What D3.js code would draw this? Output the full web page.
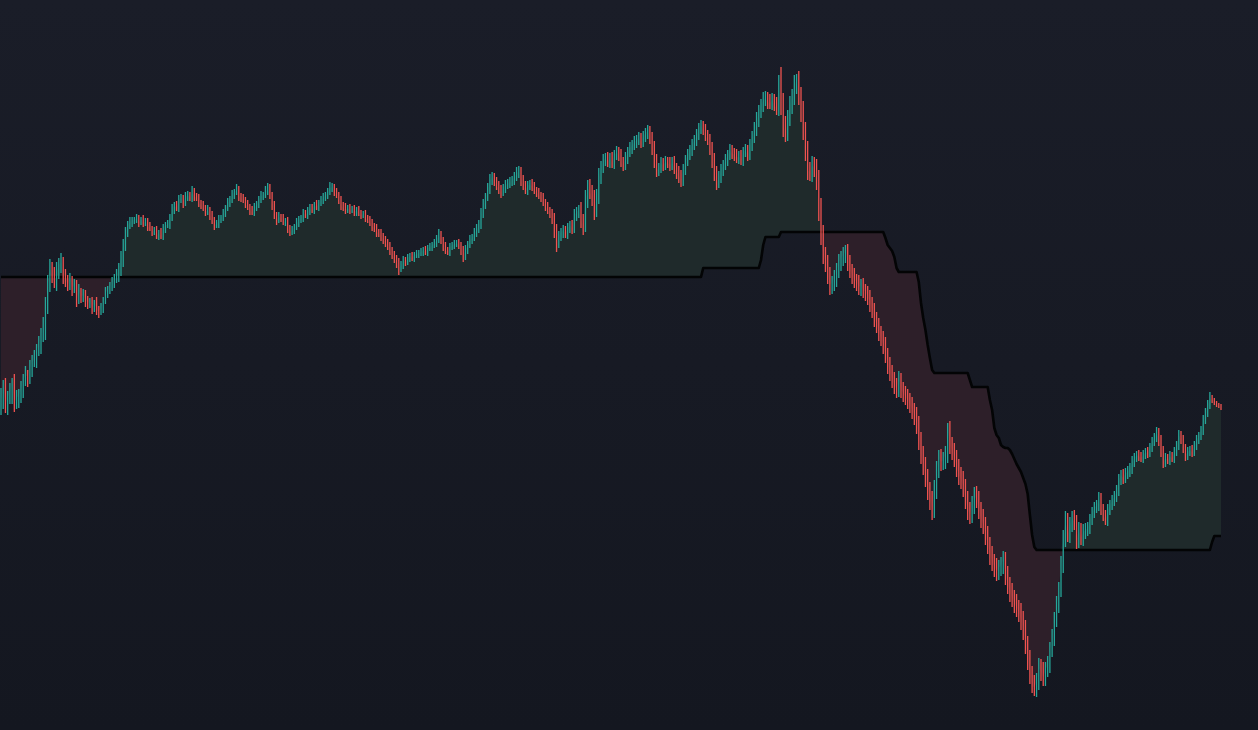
<!doctype html>
<html lang="en">
<head>
<meta charset="utf-8">
<style>
  html, body { margin: 0; padding: 0; background: #171a24; overflow: hidden; }
  svg { display: block; }
  .stop { fill: none; stroke: #030405; stroke-width: 2.6px; stroke-linejoin: round; }
</style>
</head>
<body>
<script src="https://d3js.org/d3.v7.min.js"></script>
<script>
// closing prices, one per bar (open = previous close)
var closes = [
  60.0, 61.2, 59.5, 60.3, 60.8, 61.5, 59.7, 60.2, 60.5, 61.0,
  62.0, 62.5, 62.3, 63.2, 63.8, 64.0, 65.0, 65.5, 66.5, 67.5,
  69.5, 71.5, 73.2, 72.5, 71.8, 72.8, 73.5, 73.8, 72.5, 72.0,
  71.5, 72.0, 71.2, 71.5, 70.0, 70.8, 70.3, 70.5, 70.0, 69.7,
  69.8, 69.2, 69.7, 69.0, 68.8, 69.2, 70.0, 70.7, 71.0, 71.3,
  71.8, 72.2, 72.5, 73.2, 74.2, 75.5, 76.8, 77.5, 77.8, 78.0,
  78.0, 78.2, 77.8, 78.1, 77.7, 77.9, 77.4, 77.2, 76.8, 77.0,
  76.4, 76.7, 76.4, 77.2, 77.5, 77.5, 78.2, 79.0, 79.5, 79.2,
  80.0, 80.2, 79.7, 80.3, 80.5, 80.2, 80.8, 80.4, 80.2, 79.7,
  79.5, 79.2, 78.8, 79.0, 78.5, 78.0, 77.5, 77.6, 78.0, 78.2,
  78.7, 79.2, 79.7, 80.0, 80.5, 80.8, 81.0, 80.4, 80.2, 80.0,
  79.6, 79.3, 79.0, 78.8, 79.2, 79.6, 80.0, 80.4, 80.5, 80.8,
  81.2, 80.5, 79.5, 78.5, 78.0, 78.3, 78.2, 77.8, 77.9, 77.2,
  76.8, 77.0, 77.3, 77.7, 78.0, 78.2, 78.7, 78.5, 78.8, 79.2,
  79.0, 79.5, 79.3, 79.7, 80.0, 80.2, 80.5, 80.8, 81.2, 81.3,
  80.8, 80.5, 80.0, 79.5, 79.2, 79.0, 79.2, 79.0, 79.1, 78.8,
  79.0, 78.7, 78.5, 78.6, 78.2, 78.0, 77.8, 77.4, 77.2, 76.8,
  76.7, 76.4, 76.0, 75.8, 75.4, 75.0, 74.5, 74.2, 73.8, 73.2,
  73.4, 74.0, 73.8, 74.2, 74.4, 74.2, 74.5, 74.6, 74.7, 74.8,
  75.0, 74.8, 75.2, 75.3, 75.5, 75.7, 76.0, 76.5, 76.0, 75.4,
  75.0, 74.8, 75.3, 75.5, 75.6, 75.7, 75.5, 75.0, 74.4, 75.0,
  75.5, 76.0, 76.2, 76.7, 77.0, 77.5, 78.5, 79.5, 80.2, 81.0,
  82.0, 82.3, 81.8, 81.5, 81.0, 80.8, 81.2, 81.5, 81.7, 81.8,
  82.0, 82.3, 82.7, 82.9, 82.0, 81.5, 81.0, 81.4, 81.6, 81.4,
  81.0, 80.8, 80.5, 80.3, 79.8, 79.4, 79.0, 78.7, 78.2, 77.0,
  75.8, 76.4, 76.8, 77.0, 76.7, 77.2, 77.5, 77.2, 78.5, 78.8,
  79.0, 78.0, 77.5, 80.0, 81.2, 80.8, 80.2, 79.0, 80.2, 82.2,
  83.2, 84.0, 84.2, 83.8, 84.2, 83.7, 84.5, 84.8, 84.5, 83.8,
  83.5, 84.2, 84.8, 85.2, 85.5, 85.8, 86.0, 86.2, 85.8, 86.3,
  86.7, 86.9, 86.2, 85.2, 84.0, 83.0, 83.2, 83.7, 83.5, 83.8,
  83.7, 83.5, 83.8, 83.2, 82.8, 82.5, 82.0, 83.0, 84.0, 84.5,
  85.0, 85.5, 86.0, 86.5, 87.2, 87.4, 87.0, 86.5, 86.0, 85.2,
  84.0, 82.8, 81.8, 82.2, 83.0, 83.5, 84.0, 84.5, 85.0, 84.7,
  84.5, 84.2, 84.4, 84.0, 84.8, 85.0, 84.5, 85.5, 86.2, 87.0,
  88.0, 88.8, 89.5, 90.0, 90.2, 89.8, 89.7, 90.0, 89.5, 89.2,
  91.5, 89.5, 87.5, 86.8, 88.2, 89.5, 90.3, 91.5, 92.0, 90.5,
  89.0, 87.0, 85.0, 83.0, 82.8, 83.5, 83.2, 82.0, 79.0, 76.5,
  74.5, 73.8, 72.5, 71.5, 71.7, 72.2, 73.0, 73.8, 74.2, 74.5,
  74.8, 73.8, 73.0, 72.5, 72.0, 71.8, 71.3, 71.5, 71.0, 70.8,
  70.3, 69.7, 69.0, 68.2, 67.5, 66.8, 66.2, 65.5, 64.5, 63.5,
  62.8, 62.0, 61.5, 61.0, 62.0, 61.0, 60.7, 60.3, 60.0, 59.5,
  59.0, 58.5, 57.5, 56.0, 54.5, 53.5, 52.2, 51.0, 50.0, 49.0,
  51.0, 53.0, 54.2, 53.8, 54.0, 54.5, 57.0, 55.5, 54.8, 54.2,
  53.2, 52.5, 52.0, 51.3, 50.0, 49.0, 48.5, 49.5, 50.5, 50.0,
  49.0, 48.2, 47.5, 46.5, 45.5, 44.5, 43.8, 43.3, 42.8, 43.2,
  43.5, 44.0, 42.5, 41.5, 40.8, 40.2, 39.7, 39.2, 38.8, 38.0,
  37.0, 35.5, 34.0, 32.5, 31.5, 31.2, 31.8, 33.2, 32.8, 32.2,
  33.0, 33.5, 35.0, 36.2, 38.0, 39.5, 41.0, 43.5, 46.0, 48.0,
  46.5, 47.5, 48.2, 47.8, 46.0, 47.0, 46.2, 46.8, 47.0, 47.2,
  48.0, 48.8, 49.2, 49.5, 50.2, 49.0, 48.5, 48.0, 49.0, 49.5,
  50.0, 50.3, 51.0, 52.0, 52.5, 52.2, 52.7, 52.8, 53.2, 53.8,
  54.2, 54.5, 54.4, 54.2, 54.5, 54.8, 54.7, 55.3, 55.8, 56.3,
  56.8, 56.0, 55.0, 53.8, 54.2, 54.0, 54.4, 54.2, 54.8, 55.5,
  56.5, 56.0, 55.2, 54.5, 54.8, 55.0, 54.8, 55.5, 56.0, 56.4,
  57.0, 58.0, 58.8, 59.5, 60.2, 60.0, 59.7, 59.5, 59.4, 59.2
];

// how far each bar's high reaches above its body
var wickUp = [
  1.2, 0.8, 1.0, 0.6, 0.9, 0.7, 1.1, 0.8, 0.6, 0.9,
  0.6, 0.9, 0.5, 0.8, 0.7, 1.0, 0.6, 0.9, 0.7, 0.8,
  0.8, 1.0, 0.9, 0.6, 0.8, 1.0, 0.7, 0.9, 0.5, 0.6,
  0.5, 0.7, 0.4, 0.6, 0.5, 0.8, 0.4, 0.6, 0.5, 0.4,
  0.4, 0.5, 0.3, 0.6, 0.4, 0.5, 0.3, 0.6, 0.4, 0.5,
  0.5, 0.4, 0.6, 0.5, 0.7, 0.6, 0.5, 0.4, 0.5, 0.3,
  0.3, 0.4, 0.3, 0.2, 0.4, 0.3, 0.3, 0.4, 0.2, 0.3,
  0.4, 0.3, 0.5, 0.4, 0.3, 0.5, 0.4, 0.6, 0.3, 0.4,
  0.5, 0.4, 0.3, 0.5, 0.4, 0.3, 0.6, 0.4, 0.3, 0.4,
  0.3, 0.4, 0.3, 0.5, 0.3, 0.4, 0.3, 0.4, 0.5, 0.3,
  0.4, 0.3, 0.5, 0.4, 0.5, 0.3, 0.6, 0.4, 0.3, 0.4,
  0.3, 0.4, 0.3, 0.4, 0.5, 0.3, 0.4, 0.5, 0.3, 0.6,
  0.5, 0.4, 0.3, 0.4, 0.3, 0.5, 0.3, 0.4, 0.3, 0.4,
  0.3, 0.4, 0.3, 0.5, 0.4, 0.3, 0.4, 0.3, 0.5, 0.4,
  0.4, 0.3, 0.5, 0.3, 0.4, 0.5, 0.3, 0.4, 0.6, 0.4,
  0.3, 0.4, 0.3, 0.4, 0.3, 0.5, 0.3, 0.4, 0.3, 0.4,
  0.3, 0.4, 0.3, 0.3, 0.4, 0.3, 0.4, 0.3, 0.3, 0.4,
  0.3, 0.4, 0.3, 0.4, 0.3, 0.4, 0.3, 0.4, 0.3, 0.4,
  0.5, 0.4, 0.3, 0.4, 0.3, 0.4, 0.3, 0.4, 0.3, 0.4,
  0.3, 0.4, 0.3, 0.4, 0.3, 0.4, 0.5, 0.6, 0.4, 0.3,
  0.4, 0.3, 0.4, 0.3, 0.4, 0.3, 0.4, 0.3, 0.4, 0.5,
  0.4, 0.5, 0.4, 0.5, 0.6, 0.5, 0.7, 0.6, 0.5, 0.7,
  0.6, 0.5, 0.4, 0.5, 0.4, 0.5, 0.4, 0.5, 0.4, 0.5,
  0.4, 0.5, 0.6, 0.5, 0.4, 0.5, 0.4, 0.5, 0.4, 0.5,
  0.4, 0.3, 0.4, 0.3, 0.4, 0.3, 0.4, 0.3, 0.4, 0.5,
  0.6, 0.5, 0.4, 0.5, 0.4, 0.5, 0.4, 0.5, 0.6, 0.5,
  0.5, 0.8, 0.6, 1.0, 0.8, 0.9, 0.7, 0.8, 0.9, 1.0,
  0.7, 0.6, 0.5, 0.6, 0.5, 0.6, 0.5, 0.6, 0.5, 0.6,
  0.5, 0.6, 0.5, 0.6, 0.5, 0.6, 0.5, 0.6, 0.5, 0.6,
  0.5, 0.6, 0.5, 0.6, 0.7, 0.6, 0.5, 0.6, 0.5, 0.6,
  0.5, 0.6, 0.5, 0.6, 0.5, 0.6, 0.5, 0.6, 0.5, 0.6,
  0.5, 0.6, 0.5, 0.6, 0.5, 0.6, 0.5, 0.6, 0.5, 0.6,
  0.6, 0.7, 0.6, 0.7, 0.6, 0.5, 0.6, 0.5, 0.6, 0.5,
  0.5, 0.6, 0.5, 0.6, 0.5, 0.6, 0.5, 0.6, 0.7, 0.8,
  0.8, 0.7, 0.6, 0.8, 0.7, 0.6, 0.8, 0.7, 0.6, 0.8,
  1.0, 1.8, 1.2, 0.9, 0.8, 0.9, 0.8, 1.0, 0.6, 0.9,
  0.8, 0.9, 0.8, 0.9, 0.8, 0.9, 0.8, 0.9, 1.0, 1.2,
  1.0, 0.8, 0.7, 0.8, 0.7, 0.8, 0.7, 0.8, 0.7, 0.8,
  0.7, 0.8, 0.7, 0.6, 0.7, 0.6, 0.7, 0.6, 0.7, 0.6,
  0.6, 0.7, 0.6, 0.7, 0.6, 0.7, 0.6, 0.7, 0.8, 0.7,
  0.8, 0.7, 0.8, 0.7, 0.9, 0.7, 0.8, 0.7, 0.8, 0.7,
  0.8, 0.7, 0.8, 0.9, 0.8, 0.9, 0.8, 0.9, 0.8, 0.9,
  1.0, 0.9, 0.8, 0.9, 0.8, 0.9, 0.7, 0.9, 0.8, 0.9,
  0.8, 0.9, 0.8, 0.9, 0.8, 0.9, 0.8, 0.9, 0.8, 0.9,
  0.9, 0.8, 0.9, 0.8, 0.9, 0.8, 0.9, 0.8, 0.9, 0.8,
  0.8, 0.9, 0.8, 0.9, 0.8, 0.9, 0.8, 0.9, 0.8, 0.9,
  0.9, 1.0, 0.9, 1.0, 0.9, 1.0, 0.9, 1.0, 0.9, 1.0,
  0.8, 0.9, 0.8, 0.9, 0.8, 0.9, 0.8, 0.9, 1.0, 0.9,
  0.7, 0.8, 0.7, 0.8, 0.7, 0.8, 0.7, 0.8, 0.7, 0.6,
  0.6, 0.5, 0.6, 0.5, 0.6, 0.5, 0.6, 0.5, 0.6, 0.5,
  0.5, 0.6, 0.5, 0.6, 0.5, 0.6, 0.5, 0.6, 0.5, 0.6,
  0.5, 0.4, 0.5, 0.4, 0.5, 0.4, 0.5, 0.4, 0.5, 0.4,
  0.5, 0.4, 0.5, 0.4, 0.5, 0.4, 0.5, 0.4, 0.5, 0.4,
  0.5, 0.4, 0.5, 0.4, 0.5, 0.4, 0.5, 0.4, 0.5, 0.4,
  0.4, 0.5, 0.4, 0.5, 0.6, 0.3, 0.2, 0.2, 0.2, 0.2
];

// how far each bar's low reaches below its body
var wickDown = [
  1.5, 0.9, 0.8, 1.0, 0.7, 1.2, 0.9, 0.6, 1.0, 0.8,
  0.8, 0.6, 1.0, 0.7, 0.9, 0.5, 0.8, 0.6, 0.9, 0.7,
  1.5, 0.9, 0.7, 0.8, 0.6, 0.9, 0.7, 0.8, 0.9, 0.7,
  0.6, 0.5, 0.8, 0.5, 0.7, 0.4, 0.6, 0.5, 0.7, 0.6,
  0.5, 0.6, 0.4, 0.5, 0.6, 0.3, 0.5, 0.4, 0.5, 0.4,
  0.4, 0.6, 0.5, 0.7, 0.8, 0.9, 0.6, 0.5, 0.4, 0.5,
  0.4, 0.3, 0.5, 0.3, 0.4, 0.3, 0.5, 0.3, 0.4, 0.3,
  0.3, 0.4, 0.3, 0.4, 0.5, 0.3, 0.4, 0.3, 0.4, 0.3,
  0.4, 0.3, 0.5, 0.3, 0.4, 0.3, 0.4, 0.5, 0.3, 0.4,
  0.4, 0.3, 0.4, 0.3, 0.5, 0.4, 0.5, 0.3, 0.4, 0.3,
  0.3, 0.4, 0.3, 0.4, 0.3, 0.4, 0.3, 0.5, 0.4, 0.3,
  0.4, 0.3, 0.5, 0.3, 0.4, 0.3, 0.4, 0.3, 0.4, 0.3,
  0.3, 0.4, 0.5, 0.4, 0.5, 0.3, 0.4, 0.3, 0.4, 0.5,
  0.4, 0.3, 0.4, 0.3, 0.4, 0.3, 0.4, 0.3, 0.4, 0.3,
  0.3, 0.4, 0.3, 0.4, 0.3, 0.4, 0.3, 0.4, 0.3, 0.4,
  0.4, 0.3, 0.4, 0.5, 0.3, 0.4, 0.3, 0.4, 0.3, 0.4,
  0.4, 0.3, 0.4, 0.3, 0.4, 0.3, 0.4, 0.5, 0.4, 0.5,
  0.4, 0.5, 0.4, 0.5, 0.4, 0.5, 0.4, 0.5, 0.6, 0.7,
  0.4, 0.3, 0.4, 0.3, 0.4, 0.3, 0.4, 0.3, 0.4, 0.3,
  0.4, 0.3, 0.4, 0.3, 0.4, 0.3, 0.4, 0.3, 0.4, 0.5,
  0.4, 0.3, 0.4, 0.3, 0.4, 0.3, 0.4, 0.5, 0.6, 0.4,
  0.4, 0.3, 0.4, 0.3, 0.4, 0.3, 0.4, 0.3, 0.4, 0.3,
  0.4, 0.5, 0.4, 0.5, 0.4, 0.6, 0.4, 0.5, 0.4, 0.5,
  0.4, 0.5, 0.4, 0.5, 0.6, 0.5, 0.4, 0.5, 0.4, 0.5,
  0.4, 0.5, 0.4, 0.5, 0.4, 0.5, 0.4, 0.5, 0.6, 0.8,
  1.0, 0.6, 0.5, 0.6, 0.5, 0.6, 0.5, 0.6, 0.5, 0.6,
  0.6, 0.8, 1.0, 0.7, 0.8, 0.7, 0.8, 1.0, 0.7, 0.6,
  0.6, 0.5, 0.6, 0.5, 0.6, 0.5, 0.6, 0.5, 0.6, 0.5,
  0.6, 0.5, 0.6, 0.5, 0.6, 0.5, 0.6, 0.5, 0.6, 0.5,
  0.5, 0.6, 0.6, 0.7, 0.8, 0.7, 0.6, 0.5, 0.6, 0.5,
  0.5, 0.6, 0.5, 0.6, 0.7, 0.8, 0.7, 0.6, 0.5, 0.6,
  0.5, 0.6, 0.5, 0.6, 0.5, 0.6, 0.5, 0.6, 0.5, 0.7,
  0.8, 0.9, 0.8, 0.6, 0.5, 0.6, 0.5, 0.6, 0.5, 0.6,
  0.6, 0.5, 0.6, 0.5, 0.6, 0.5, 0.6, 0.5, 0.6, 0.5,
  0.6, 0.7, 0.6, 0.7, 0.6, 0.7, 0.6, 0.7, 0.6, 0.7,
  0.8, 1.0, 1.2, 1.0, 0.9, 0.8, 0.9, 0.8, 0.9, 1.0,
  1.2, 1.0, 1.1, 1.0, 0.9, 1.0, 0.9, 1.0, 1.1, 1.0,
  0.9, 1.0, 0.9, 1.0, 0.9, 0.8, 0.9, 0.8, 0.9, 0.8,
  0.8, 0.9, 0.8, 0.9, 0.8, 0.9, 0.8, 0.9, 0.8, 0.9,
  0.8, 0.9, 0.8, 0.9, 0.8, 0.9, 0.8, 0.9, 0.8, 0.9,
  0.9, 0.8, 0.9, 0.8, 0.7, 0.8, 0.9, 0.8, 0.9, 0.8,
  0.9, 1.0, 0.9, 1.0, 0.9, 1.0, 0.9, 1.0, 1.0, 1.0,
  0.8, 0.9, 0.8, 0.9, 0.8, 0.9, 0.8, 0.9, 0.8, 0.9,
  0.9, 1.0, 0.9, 1.0, 0.9, 1.0, 0.9, 0.8, 0.9, 0.8,
  0.9, 1.0, 0.9, 1.0, 0.9, 1.0, 0.9, 1.0, 0.9, 0.8,
  0.8, 0.9, 1.0, 0.9, 1.0, 0.9, 1.0, 0.9, 1.0, 1.0,
  1.0, 0.9, 1.0, 0.9, 0.8, 0.8, 0.9, 0.8, 0.9, 0.8,
  0.8, 0.7, 0.8, 0.7, 0.8, 0.7, 0.8, 0.7, 0.8, 0.7,
  0.7, 0.8, 0.7, 0.8, 0.9, 0.8, 0.7, 0.8, 0.7, 0.6,
  0.6, 0.5, 0.6, 0.5, 0.6, 0.5, 0.6, 0.5, 0.6, 0.5,
  0.5, 0.6, 0.5, 0.6, 0.5, 0.6, 0.5, 0.6, 0.5, 0.6,
  0.5, 0.4, 0.5, 0.4, 0.5, 0.4, 0.5, 0.4, 0.5, 0.4,
  0.5, 0.6, 0.7, 0.6, 0.5, 0.4, 0.5, 0.4, 0.5, 0.4,
  0.5, 0.4, 0.5, 0.6, 0.5, 0.4, 0.5, 0.4, 0.5, 0.4,
  0.4, 0.5, 0.4, 0.5, 0.4, 0.3, 0.2, 0.2, 0.2, 0.2
];

// trailing stop: [first bar, level]
var stopSteps = [
  [0, 72.3], [316, 73.2], [342, 74.0], [343, 75.5], [344, 76.3], [351, 76.8],
  [398, 76.2], [399, 75.5], [400, 75.2], [401, 74.9], [402, 74.3], [403, 73.2], [404, 72.8],
  [413, 71.8], [414, 69.7], [415, 68.2], [416, 67.0], [417, 65.5], [418, 64.2], [419, 63.0],
  [420, 62.7], [436, 62.0], [437, 61.3], [445, 60.0], [446, 59.0], [447, 57.2], [448, 56.5],
  [449, 56.2], [450, 55.5], [451, 55.3], [452, 55.2], [454, 55.0], [455, 54.6], [456, 54.1],
  [457, 53.6], [458, 53.2], [459, 52.8], [460, 52.2], [461, 51.6], [462, 50.6], [463, 48.5],
  [464, 46.5], [465, 45.3], [466, 45.0], [545, 45.8], [546, 46.4]
];

var priceMin = 27, priceMax = 100;

var width = 1258, height = 730;

var bars = closes.map(function(c, i) {
  var level = stopSteps[0][1];
  stopSteps.forEach(function(s) { if (s[0] <= i) level = s[1]; });
  var o = i > 0 ? closes[i - 1] : c;
  return {
    i: i, open: o, close: c, stop: level,
    high: Math.max(o, c) + wickUp[i],
    low: Math.min(o, c) - wickDown[i]
  };
});

var x = d3.scaleLinear().domain([0, closes.length - 1]).range([1, 1221]);
var y = d3.scaleLinear().domain([priceMin, priceMax]).range([height, 0]);

var svg = d3.select("body").append("svg")
  .attr("width", width)
  .attr("height", height);

var grad = svg.append("defs").append("linearGradient")
  .attr("id", "bg").attr("x1", 0).attr("y1", 0).attr("x2", 0).attr("y2", 1);
grad.append("stop").attr("offset", "0%").attr("stop-color", "#1a1d28");
grad.append("stop").attr("offset", "100%").attr("stop-color", "#141720");

svg.append("rect")
  .attr("width", width).attr("height", height)
  .attr("fill", "url(#bg)");

// fill between close and stop: green above, red below
var upArea = d3.area()
  .x(function(d) { return x(d.i); })
  .y0(function(d) { return y(d.stop); })
  .y1(function(d) { return y(Math.max(d.close, d.stop)); });

var downArea = d3.area()
  .x(function(d) { return x(d.i); })
  .y0(function(d) { return y(d.stop); })
  .y1(function(d) { return y(Math.min(d.close, d.stop)); });

svg.append("path").datum(bars).attr("d", upArea).attr("fill", "#1f2a2b");
svg.append("path").datum(bars).attr("d", downArea).attr("fill", "#2d1f29");

var stopLine = d3.line()
  .x(function(d) { return x(d.i); })
  .y(function(d) { return y(d.stop); });

svg.append("path").datum(bars).attr("class", "stop").attr("d", stopLine);

// price bars, high to low
svg.append("g")
  .selectAll("rect")
  .data(bars)
  .enter().append("rect")
  .attr("x", function(d) { return x(d.i) - 0.65; })
  .attr("width", 1.3)
  .attr("y", function(d) { return y(d.high); })
  .attr("height", function(d) { return y(d.low) - y(d.high); })
  .attr("fill", function(d) { return d.close >= d.open ? "#26a69a" : "#ef5350"; });
</script>
</body>
</html>
